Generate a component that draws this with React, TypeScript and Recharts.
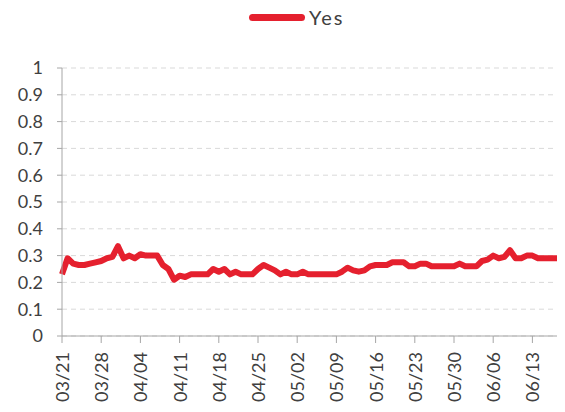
import React from "react";
import { LineChart, Line, XAxis, YAxis, CartesianGrid, Legend } from "recharts";

const dates = [
  "03/21", "03/22", "03/23", "03/24", "03/25", "03/26", "03/27", "03/28", "03/29", "03/30", "03/31",
  "04/01", "04/02", "04/03", "04/04", "04/05", "04/06", "04/07", "04/08", "04/09", "04/10",
  "04/11", "04/12", "04/13", "04/14", "04/15", "04/16", "04/17", "04/18", "04/19", "04/20",
  "04/21", "04/22", "04/23", "04/24", "04/25", "04/26", "04/27", "04/28", "04/29", "04/30",
  "05/01", "05/02", "05/03", "05/04", "05/05", "05/06", "05/07", "05/08", "05/09", "05/10",
  "05/11", "05/12", "05/13", "05/14", "05/15", "05/16", "05/17", "05/18", "05/19", "05/20",
  "05/21", "05/22", "05/23", "05/24", "05/25", "05/26", "05/27", "05/28", "05/29", "05/30", "05/31",
  "06/01", "06/02", "06/03", "06/04", "06/05", "06/06", "06/07", "06/08", "06/09", "06/10",
  "06/11", "06/12", "06/13", "06/14", "06/15", "06/16", "06/17", "06/18", "06/19",
];

const yes = [
  0.23, 0.29, 0.27, 0.265, 0.265, 0.27, 0.275, 0.28, 0.29, 0.295, 0.335,
  0.29, 0.3, 0.29, 0.305, 0.3, 0.3, 0.3, 0.265, 0.25, 0.21,
  0.225, 0.22, 0.23, 0.23, 0.23, 0.23, 0.25, 0.24, 0.25, 0.23,
  0.24, 0.23, 0.23, 0.23, 0.25, 0.265, 0.255, 0.245, 0.23, 0.24,
  0.23, 0.23, 0.24, 0.23, 0.23, 0.23, 0.23, 0.23, 0.23, 0.24,
  0.255, 0.245, 0.24, 0.245, 0.26, 0.265, 0.265, 0.265, 0.275, 0.275,
  0.275, 0.26, 0.26, 0.27, 0.27, 0.26, 0.26, 0.26, 0.26, 0.26, 0.27,
  0.26, 0.26, 0.26, 0.28, 0.285, 0.3, 0.29, 0.295, 0.32, 0.29,
  0.29, 0.3, 0.3, 0.29, 0.29, 0.29, 0.29, 0.29, 0.29,
];

const yTicks = [0, 0.1, 0.2, 0.3, 0.4, 0.5, 0.6, 0.7, 0.8, 0.9, 1];

const data = dates.map((d, i) => ({ date: d, Yes: yes[i] }));

const RED = "#E5202E";
const TEXT = "#404040";
const FONT = "Lato, 'Noto Sans', sans-serif";

function DateTick({ x, y, payload }: any) {
  return (
    <text
      x={x}
      y={y}
      transform={`rotate(-90, ${x}, ${y})`}
      textAnchor="end"
      dominantBaseline="central"
      fill={TEXT}
      fontSize={18}
      fontFamily={FONT}
    >
      {payload.value}
    </text>
  );
}

function LegendContent() {
  return (
    <div style={{ display: "flex", alignItems: "center", fontFamily: FONT }}>
      <span
        style={{
          display: "inline-block",
          width: 56,
          height: 7,
          borderRadius: 4,
          background: RED,
        }}
      />
      <span style={{ marginLeft: 4, fontSize: 20, color: TEXT, letterSpacing: 2 }}>Yes</span>
    </div>
  );
}

export default function App() {
  return (
    <div
      style={{
        margin: "-8px 0 0 -8px",
        width: 565,
        height: 412,
        overflow: "hidden",
        fontFamily: FONT,
      }}
    >
      <LineChart
        width={574}
        height={412}
        data={data}
        margin={{ top: 68, right: 8, left: 0, bottom: 0 }}
      >
        <CartesianGrid vertical={false} stroke="#d9d9d9" strokeDasharray="5 4" />
        <XAxis
          dataKey="date"
          interval={6}
          height={76}
          tick={<DateTick />}
          tickSize={7}
          tickMargin={9}
          stroke="#a6a6a6"
          tickLine={{ stroke: "#a6a6a6" }}
        />
        <YAxis
          domain={[0, 1]}
          ticks={yTicks}
          width={62}
          tickSize={5}
          tickMargin={14}
          stroke="#a6a6a6"
          tick={{ fill: TEXT, fontSize: 18, fontFamily: FONT }}
          tickFormatter={(v: number) => String(v)}
        />
        <Legend
          verticalAlign="middle"
          content={<LegendContent />}
          wrapperStyle={{ top: 5, left: 249, width: "auto" }}
        />
        <Line
          type="linear"
          dataKey="Yes"
          stroke={RED}
          strokeWidth={6}
          strokeLinejoin="round"
          dot={false}
          isAnimationActive={false}
        />
      </LineChart>
    </div>
  );
}
